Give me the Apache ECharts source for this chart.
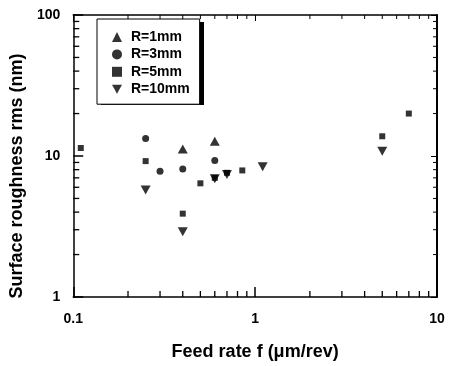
<!DOCTYPE html>
<html>
<head>
<meta charset="utf-8">
<script src="https://cdn.jsdelivr.net/npm/echarts@6/dist/echarts.min.js"></script>
<style>
  html, body { margin: 0; padding: 0; background: #fff; }
  #chart { width: 449px; height: 366px; }
</style>
</head>
<body>
<div id="chart"></div>
<script>
// feed rate f (um/rev) vs surface roughness rms (nm)
const r1mm = [[0.4, 11.2], [0.6, 12.7]];
const r3mm = [[0.25, 13.3], [0.3, 7.8], [0.4, 8.1], [0.6, 9.3]];
const r5mm = [[0.11, 11.4], [0.25, 9.2], [0.4, 3.9], [0.5, 6.4], [0.6, 7.0], [0.7, 7.6], [0.85, 7.9], [5, 13.8], [7, 20]];
const r10mm = [[0.25, 5.75], [0.4, 2.9], [0.6, 6.9], [0.7, 7.4], [1.1, 8.4], [5, 10.8]];

// minor tick values of the log axes
const minorX = [0.2, 0.3, 0.4, 0.5, 0.6, 0.7, 0.8, 0.9, 2, 3, 4, 5, 6, 7, 8, 9];
const minorY = [2, 3, 4, 5, 6, 7, 8, 9, 20, 30, 40, 50, 60, 70, 80, 90];

const FONT = "'Liberation Sans', Arial, sans-serif";
const downTri = 'path://M0,0 L10,0 L5,9 Z';

const chart = echarts.init(document.getElementById('chart'));

function minorTicks(isX) {
  return function (params, api) {
    let a, b;
    if (isX) {
      a = api.coord([api.value(0), 1]);
      b = api.coord([api.value(0), 100]);
      return { type: 'group', children: [
        { type: 'line', shape: { x1: a[0], y1: a[1], x2: a[0], y2: a[1] - 6 }, style: { stroke: '#000', lineWidth: 1.3 } },
        { type: 'line', shape: { x1: b[0], y1: b[1], x2: b[0], y2: b[1] + 4 }, style: { stroke: '#000', lineWidth: 1 } }
      ] };
    }
    a = api.coord([0.1, api.value(1)]);
    b = api.coord([10, api.value(1)]);
    return { type: 'group', children: [
      { type: 'line', shape: { x1: a[0], y1: a[1], x2: a[0] + 6, y2: a[1] }, style: { stroke: '#000', lineWidth: 1.3 } },
      { type: 'line', shape: { x1: b[0], y1: b[1], x2: b[0] - 4, y2: b[1] }, style: { stroke: '#000', lineWidth: 1 } }
    ] };
  };
}

const axisLine = { show: true, onZero: false, lineStyle: { color: '#000', width: 1.5 } };

const option = {
  backgroundColor: '#fff',
  animation: false,
  grid: { left: 71, right: 12, top: 15, bottom: 66, containLabel: false },
  // drop shadow behind the legend box
  graphic: [{
    type: 'rect', left: 101, top: 22, z: 0,
    shape: { width: 103, height: 83 },
    style: { fill: '#000' }
  }],
  legend: {
    orient: 'vertical',
    left: 97,
    top: 19,
    z: 5,
    data: ['R=1mm', 'R=3mm', 'R=5mm', 'R=10mm'],
    itemWidth: 10,
    itemHeight: 10,
    itemGap: 3.4,
    padding: [11, 10, 8, 15],
    backgroundColor: '#fff',
    borderColor: '#000',
    borderWidth: 1,
    borderRadius: 0,
    formatter: function (name) { return ' ' + name; },
    textStyle: { fontFamily: FONT, fontWeight: 'bold', fontSize: 14, color: '#000' }
  },
  xAxis: [{
    type: 'log', logBase: 10, min: 0.1, max: 10,
    position: 'bottom',
    axisLine: axisLine,
    axisTick: { show: true, inside: true, length: 10, lineStyle: { color: '#000', width: 1.5 } },
    splitLine: { show: false },
    axisLabel: { fontFamily: FONT, fontWeight: 'bold', fontSize: 14, color: '#000', margin: 15 },
    name: 'Feed rate f (\u03bcm/rev)',
    nameLocation: 'middle',
    nameGap: 46,
    nameTextStyle: { fontFamily: FONT, fontWeight: 'bold', fontSize: 18, color: '#000' }
  }, {
    type: 'log', logBase: 10, min: 0.1, max: 10,
    position: 'top',
    axisLine: axisLine,
    axisTick: { show: true, inside: true, length: 6, lineStyle: { color: '#000', width: 1 } },
    splitLine: { show: false },
    axisLabel: { show: false }
  }],
  yAxis: [{
    type: 'log', logBase: 10, min: 1, max: 100,
    position: 'left',
    axisLine: axisLine,
    axisTick: { show: true, inside: true, length: 10, lineStyle: { color: '#000', width: 1.5 } },
    splitLine: { show: false },
    axisLabel: { fontFamily: FONT, fontWeight: 'bold', fontSize: 14, color: '#000', margin: 13 },
    name: 'Surface roughness rms (nm)',
    nameLocation: 'middle',
    nameGap: 45,
    nameTextStyle: { fontFamily: FONT, fontWeight: 'bold', fontSize: 18, color: '#000', padding: [0, 40, 0, 0] }
  }, {
    type: 'log', logBase: 10, min: 1, max: 100,
    position: 'right',
    axisLine: { show: true, onZero: false, lineStyle: { color: '#000', width: 2 } },
    axisTick: { show: true, inside: true, length: 6, lineStyle: { color: '#000', width: 1 } },
    splitLine: { show: false },
    axisLabel: { show: false }
  }],
  series: [
    { name: 'R=1mm', type: 'scatter', data: r1mm, symbol: 'triangle', symbolSize: [10, 9], itemStyle: { color: '#000' } },
    { name: 'R=3mm', type: 'scatter', data: r3mm, symbol: 'circle', symbolSize: 7, itemStyle: { color: '#000' } },
    { name: 'R=5mm', type: 'scatter', data: r5mm, symbol: 'rect', symbolSize: 6, itemStyle: { color: '#000' } },
    { name: 'R=10mm', type: 'scatter', data: r10mm, symbol: downTri, symbolSize: [10, 9], itemStyle: { color: '#000' } },
    { type: 'custom', silent: true, data: minorX.map(v => [v, 1]), renderItem: minorTicks(true), clip: false },
    { type: 'custom', silent: true, data: minorY.map(v => [0.1, v]), renderItem: minorTicks(false), clip: false }
  ]
};

chart.setOption(option);
</script>
</body>
</html>
